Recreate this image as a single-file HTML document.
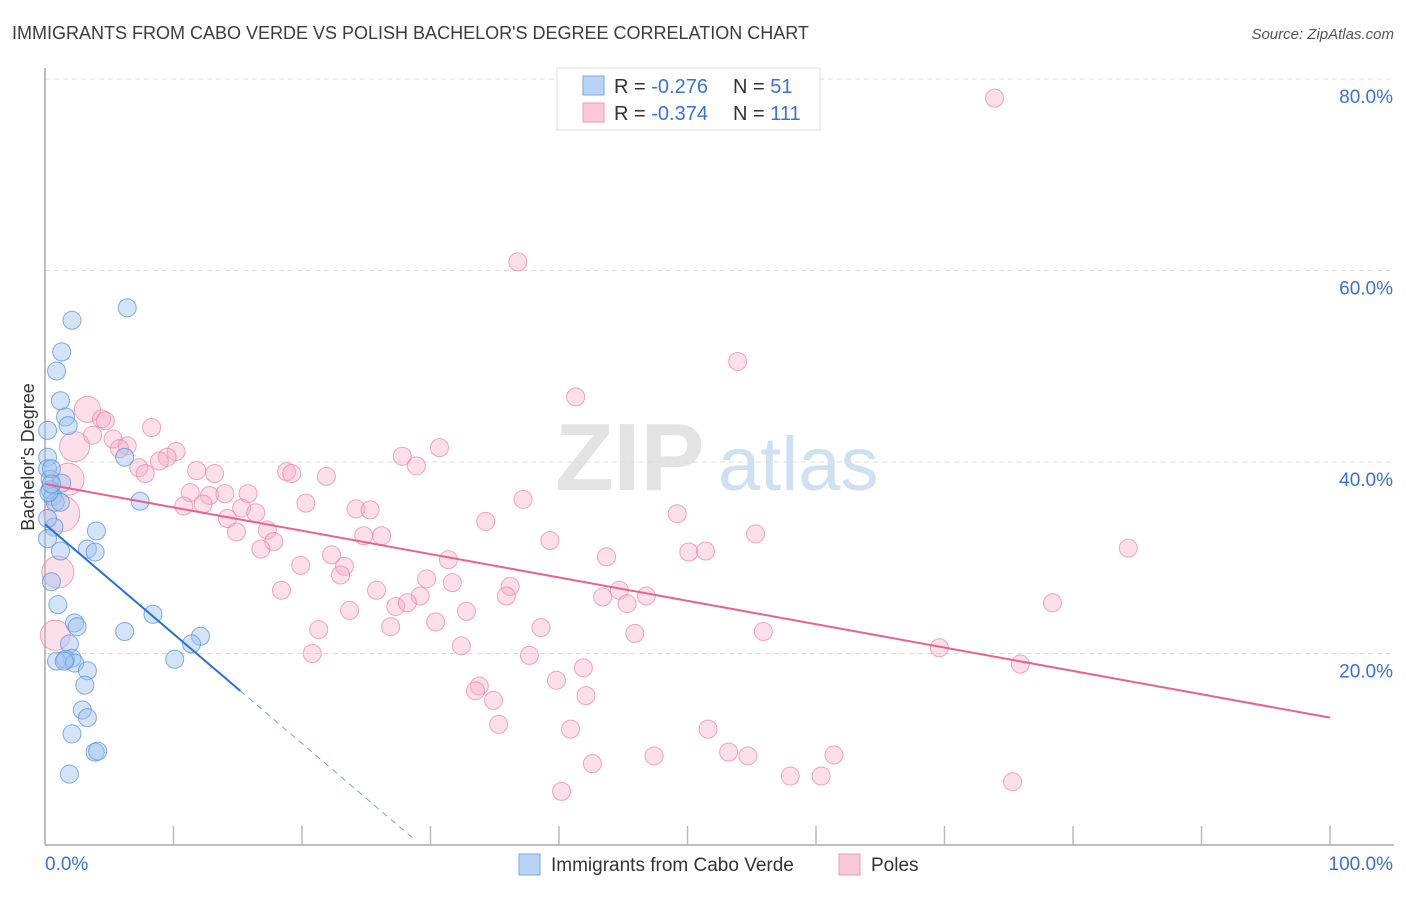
<!DOCTYPE html>
<html><head><meta charset="utf-8"><style>
body{margin:0;background:#fff;font-family:"Liberation Sans",sans-serif;}
svg text{font-family:"Liberation Sans",sans-serif;}
</style></head><body>
<svg id="chart" width="1406" height="892" xmlns="http://www.w3.org/2000/svg">
<text x="12" y="39" font-size="18" fill="#3c3c3c">IMMIGRANTS FROM CABO VERDE VS POLISH BACHELOR'S DEGREE CORRELATION CHART</text>
<text x="1394" y="39" font-size="15" fill="#555" text-anchor="end" font-style="italic">Source: ZipAtlas.com</text>
<g>
<text x="555" y="490" font-size="96" fill="#e3e3e3" font-family="Liberation Serif" font-weight="bold">ZIP</text>
<text x="718" y="490" font-size="76" fill="#cfe0f3">atlas</text>
</g>
<g id="grid"></g>
<g id="axes"></g>
<g id="pts"></g>
<g id="trend"></g>
<text transform="translate(34,457) rotate(-90)" font-size="18" fill="#333" text-anchor="middle">Bachelor's Degree</text>
<g>
<rect x="557" y="68" width="263" height="62" fill="#fff" stroke="#ddd"/>
<rect x="583" y="76" width="21" height="19" fill="#b9d3f5" stroke="#7aa7e3"/>
<rect x="583" y="103" width="21" height="19" fill="#fbc9d8" stroke="#ee9ab6"/>
<text x="614" y="93" font-size="20" fill="#333">R = <tspan fill="#3a72d4">-0.276</tspan></text>
<text x="733" y="93" font-size="20" fill="#333">N = <tspan fill="#3a72d4"> 51</tspan></text>
<text x="614" y="120" font-size="20" fill="#333">R = <tspan fill="#3a72d4">-0.374</tspan></text>
<text x="733" y="120" font-size="20" fill="#333">N = <tspan fill="#3a72d4">111</tspan></text>
</g>
<g>
<rect x="519" y="854" width="21" height="21" fill="#b9d3f5" stroke="#7aa7e3"/>
<text x="551" y="871" font-size="19" fill="#333">Immigrants from Cabo Verde</text>
<rect x="839" y="854" width="21" height="21" fill="#fbc9d8" stroke="#ee9ab6"/>
<text x="871" y="871" font-size="19" fill="#333">Poles</text>
</g>
</svg>
<script>
const yTicks=[20,40,60,80];
const xTickCount=10;
const blueX=[6.4,2.1,1.3,0.9,1.2,1.6,1.8,0.2,0.2,0.2,6.2,0.4,1.3,0.4,0.6,0.8,1.2,7.4,0.7,4.0,1.2,3.3,3.9,0.5,1.0,2.3,2.5,6.2,8.4,10.1,12.1,11.4,1.9,2.1,0.9,1.6,2.3,3.3,3.1,2.9,3.3,2.1,3.9,4.1,1.9,0.3,0.2,0.2,0.5,0.5,1.5];
const blueY=[56.1,54.8,51.5,49.5,46.4,44.7,43.8,43.3,40.5,39.3,40.5,38.2,37.8,37.1,36.4,35.8,35.8,35.9,33.2,32.8,30.7,30.9,30.6,27.5,25.1,23.2,22.8,22.3,24.1,19.4,21.8,21.0,21.0,19.5,19.2,19.4,19.0,18.2,16.7,14.1,13.3,11.6,9.7,9.8,7.4,36.8,34.1,32.0,39.3,37.7,19.2];
const pinkX=[73.9,36.8,53.9,41.3,3.3,4.4,4.7,8.3,3.7,5.3,30.7,2.3,6.4,5.8,10.2,9.5,27.8,8.9,7.3,7.8,11.8,13.2,28.9,18.8,19.2,21.9,1.8,11.3,12.8,14.0,15.8,10.8,12.3,15.3,20.3,24.2,25.3,37.2,49.2,1.3,14.2,16.4,34.3,14.9,17.3,24.8,26.2,39.3,55.3,17.8,16.8,22.3,50.1,51.4,43.7,84.3,31.4,19.9,23.3,23.0,1.0,29.7,31.7,18.4,25.8,36.2,35.9,29.2,44.7,43.4,46.8,45.3,27.3,28.2,32.8,23.7,78.4,30.4,21.3,26.9,38.6,55.9,45.9,32.4,0.8,69.6,20.8,37.7,41.9,75.9,39.8,33.8,33.5,42.1,34.9,35.3,40.9,51.6,53.2,54.7,47.4,61.4,42.6,58.0,60.4,75.3,40.2];
const pinkY=[78.0,60.9,50.5,46.8,45.5,44.5,44.3,43.6,42.8,42.4,41.5,41.6,41.7,41.4,41.1,40.5,40.6,40.1,39.4,38.8,39.1,38.8,39.6,39.0,38.8,38.5,38.2,36.8,36.5,36.7,36.7,35.4,35.6,35.2,35.7,35.1,35.0,36.1,34.6,34.6,34.1,34.7,33.8,32.7,32.9,32.3,32.3,31.8,32.5,31.7,30.9,30.3,30.6,30.7,30.1,31.0,29.8,29.2,29.1,28.2,28.5,27.8,27.4,26.6,26.6,27.0,26.0,26.0,26.6,25.9,26.0,25.2,24.9,25.3,24.4,24.5,25.3,23.3,22.5,22.8,22.7,22.3,22.1,20.8,21.9,20.6,20.0,19.8,18.5,18.9,17.2,16.6,16.1,15.6,15.1,12.6,12.1,12.1,9.7,9.3,9.3,9.4,8.5,7.2,7.2,6.6,5.6];
const pinkBig={4:13,11:15,26:16,39:18,60:16,84:15};
const blueTrend=[33.5,-1.145,15.2,28.6];
const pinkTrend=[37.7,13.3];
const NS="http://www.w3.org/2000/svg";
const X=v=>45+v*12.85;
const Y=v=>845-v*9.575;
function mk(t,a,p){const e=document.createElementNS(NS,t);for(const k in a)e.setAttribute(k,a[k]);p.appendChild(e);return e;}
const grid=document.getElementById('grid'),axes=document.getElementById('axes'),pts=document.getElementById('pts'),tr=document.getElementById('trend');
yTicks.forEach(t=>{
 const l=mk('line',{x1:45,x2:1394,y1:Y(t),y2:Y(t),stroke:'#ddd','stroke-dasharray':'5,4'},grid);
 
 
 const tx=mk('text',{x:1393,y:Y(t)+24,'font-size':19,fill:'#3a72d4','text-anchor':'end'},axes);
 tx.textContent=t.toFixed(1)+'%';
 
 
});
mk('line',{x1:45,x2:45,y1:68,y2:845,stroke:'#aaa','stroke-width':1.5},axes);
mk('line',{x1:45,x2:1394,y1:845,y2:845,stroke:'#aaa','stroke-width':1.5},axes);
for(let i=1;i<=xTickCount;i++){const x=X(i*10);mk('line',{x1:x,x2:x,y1:826,y2:845,stroke:'#bbb','stroke-width':1.5},axes);}
const t0=mk('text',{x:45,y:870,'font-size':19,fill:'#3a72d4'},axes);t0.textContent='0.0%';


const t1=mk('text',{x:1393,y:870,'font-size':19,fill:'#3a72d4','text-anchor':'end'},axes);t1.textContent='100.0%';


pinkX.forEach((v,i)=>{
 const c=mk('circle',{cx:X(v),cy:Y(pinkY[i]),r:pinkBig[i]||9,fill:'rgba(246,170,196,0.38)',stroke:'rgba(234,130,165,0.7)','stroke-width':1},pts);
 
 
});
blueX.forEach((v,i)=>{
 const c=mk('circle',{cx:X(v),cy:Y(blueY[i]),r:9,fill:'rgba(160,196,240,0.45)',stroke:'rgba(90,145,220,0.75)','stroke-width':1},pts);
 
 
});
const bt=v=>blueTrend[0]+blueTrend[1]*v;
const bl=mk('line',{x1:X(0),y1:Y(bt(0)),x2:X(blueTrend[2]),y2:Y(bt(blueTrend[2])),stroke:'#2a6fd6','stroke-width':2},tr);


const bd=mk('line',{x1:X(blueTrend[2]),y1:Y(bt(blueTrend[2])),x2:X(blueTrend[3]),y2:Y(bt(blueTrend[3])),stroke:'#7a9ee0','stroke-width':1,'stroke-dasharray':'6,5'},tr);


const pl=mk('line',{x1:X(0),y1:Y(pinkTrend[0]),x2:X(100),y2:Y(pinkTrend[1]),stroke:'#e8628f','stroke-width':2},tr);


</script>
</body></html>
